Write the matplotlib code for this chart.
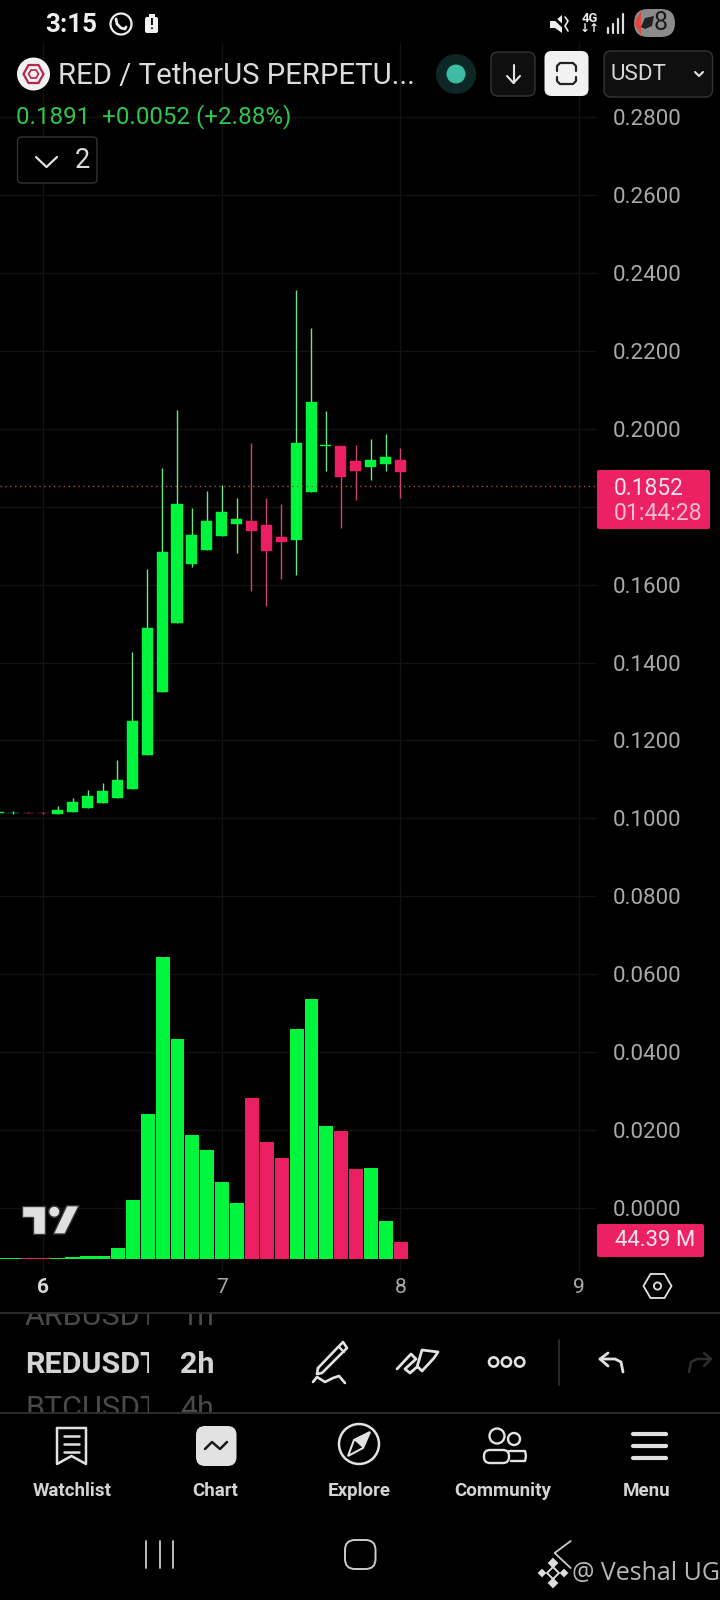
import numpy as np
import matplotlib
matplotlib.use("Agg")
import matplotlib.pyplot as plt
from matplotlib.patches import Circle, FancyBboxPatch, Polygon, Rectangle

plt.rcParams['font.family'] = ['Roboto', 'DejaVu Sans']

# candle index counted in 2h steps from the start of day 6
candle_steps = list(range(-3, 25))

opens = [0.1013, 0.1014, 0.1015, 0.1015, 0.1011, 0.1016, 0.1027, 0.1039, 0.1052, 0.1075,
         0.1163, 0.1324, 0.1501, 0.1653, 0.1689, 0.1725, 0.1755, 0.1763, 0.1753, 0.1722,
         0.1714, 0.1838, 0.1955, 0.1956, 0.1917, 0.1902, 0.1909, 0.1920]
closes = [0.1016, 0.1015, 0.1014, 0.1014, 0.1021, 0.1042, 0.1057, 0.1070, 0.1098, 0.1250,
          0.1489, 0.1684, 0.1807, 0.1727, 0.1763, 0.1786, 0.1768, 0.1738, 0.1686, 0.1709,
          0.1963, 0.2069, 0.1957, 0.1876, 0.1891, 0.1920, 0.1927, 0.1889]
highs = [0.1017, 0.1018, 0.1016, 0.1017, 0.1032, 0.1052, 0.1073, 0.1091, 0.1150, 0.1427,
         0.1640, 0.1899, 0.2048, 0.1797, 0.1840, 0.1856, 0.1822, 0.1963, 0.1822, 0.1807,
         0.2356, 0.2258, 0.2045, 0.1956, 0.1958, 0.1974, 0.1986, 0.1951]
lows = [0.1013, 0.1011, 0.1013, 0.1011, 0.1011, 0.1016, 0.1027, 0.1039, 0.1052, 0.1075,
        0.1163, 0.1324, 0.1501, 0.1645, 0.1689, 0.1725, 0.1681, 0.1584, 0.1545, 0.1614,
        0.1625, 0.1838, 0.1891, 0.1745, 0.1817, 0.1868, 0.1891, 0.1822]
volumes = [1.6, 1.6, 1.6, 1.6, 2.5, 5.8, 8.2, 7.4, 30.4, 148.8,
           360.9, 748.0, 545.8, 308.0, 271.0, 193.0, 140.6, 399.5, 291.0, 251.5,
           569.6, 643.6, 330.4, 318.0, 224.4, 227.7, 96.2, 44.39]

price_ticks = [0.28, 0.26, 0.24, 0.22, 0.20, 0.18, 0.16, 0.14, 0.12, 0.10, 0.08, 0.06, 0.04, 0.02, 0.0]
day_ticks = [6, 7, 8, 9]
last_price = 0.1852

GREEN = '#00f53c'
RED = '#e91e63'
GREEN_WICK = '#72e487'
RED_WICK = '#c9476c'
GRID = '#121212'
LABEL = '#a9a9a9'
UI = '#e2e2e2'

W, H = 720, 1600
PANE_L, PANE_R, PANE_T, PANE_B = 0, 597, 43, 1272


def fs(pixels):
    return pixels * 0.72


fig = plt.figure(figsize=(W / 100, H / 100), dpi=100, facecolor='black')
pos = [PANE_L / W, 1 - PANE_B / H, (PANE_R - PANE_L) / W, (PANE_B - PANE_T) / H]

# price pane
ax = fig.add_axes(pos, facecolor='black')
ax.set_xlim(5.7594, 9.1002)
ax.set_ylim(-0.01642, 0.29899)
for s in ax.spines.values():
    s.set_visible(False)
ax.yaxis.tick_right()
ax.set_yticks(price_ticks)
# the 0.1800 label sits behind the last price tag
ax.set_yticklabels(['' if p == 0.18 else '%.4f' % p for p in price_ticks], fontsize=fs(22.4), color=LABEL)
ax.set_xticks(day_ticks)
ax.set_xticklabels([str(d) for d in day_ticks], fontsize=fs(21), color=LABEL)
ax.xaxis.get_ticklabels()[0].set_color('#d8d8d8')
ax.xaxis.get_ticklabels()[0].set_fontweight('bold')
ax.tick_params(axis='y', length=0, pad=11.5)
ax.tick_params(axis='x', length=0, pad=4)
ax.grid(True, color=GRID, linewidth=1)
ax.set_axisbelow(True)

days = 6 + np.array(candle_steps) / 12
o = np.array(opens)
c = np.array(closes)
up = c >= o
body_colors = [GREEN if u else RED for u in up]
wick_colors = [GREEN_WICK if u else RED_WICK for u in up]

ax.vlines(days, lows, highs, colors=wick_colors, linewidth=1, zorder=2)
ax.bar(days, np.abs(c - o), bottom=np.minimum(o, c), width=0.062, color=body_colors,
       edgecolor=body_colors, linewidth=0.3, zorder=3)
ax.axhline(last_price, color='#a8504f', linewidth=1, linestyle=(0, (1, 2.5)), zorder=4)

# volume pane, same box with its own scale
ax_vol = fig.add_axes(pos, facecolor='none')
ax_vol.set_xlim(5.7594, 9.1002)
ax_vol.set_ylim(-32.06, 2998.7)
ax_vol.axis('off')
# the black edge would swallow the tiny bars, so they get none
vol_edges = [0.7 if v > 20 else 0 for v in volumes]
ax_vol.bar(days, volumes, width=0.0833, color=body_colors, edgecolor='black', linewidth=vol_edges)

# everything around the chart, in screen pixels
ui = fig.add_axes([0, 0, 1, 1], facecolor='none')
ui.set_xlim(0, W)
ui.set_ylim(H, 0)
ui.axis('off')
ui.set_zorder(5)


def box(x0, y0, x1, y1, r, fc, ec='none', lw=1):
    p = FancyBboxPatch((x0, y0), x1 - x0, y1 - y0, boxstyle='round,pad=0,rounding_size=%g' % r,
                       facecolor=fc, edgecolor=ec, linewidth=lw)
    ui.add_patch(p)
    return p


def line(xs, ys, color=UI, lw=1.6):
    ui.plot(xs, ys, color=color, linewidth=lw, solid_capstyle='round', solid_joinstyle='round')


def label(x, y, s, size, color=UI, weight='normal', ha='left', family=None):
    kw = {}
    if family:
        kw['family'] = family
    return ui.text(x, y, s, fontsize=fs(size), color=color, fontweight=weight, ha=ha, va='center', **kw)


# status bar
label(45, 24.5, '3:15', 26, '#f0f0f0', 'bold')
ui.add_patch(Circle((121, 24), 10.5, fc='none', ec='#eeeeee', lw=1.6))
line([116, 117, 121, 125, 126], [19, 24, 28, 29, 27], '#eeeeee', 2)
box(145, 17, 158, 33, 2, '#f2f2f2')
ui.add_patch(Rectangle((148.5, 14), 6, 3, fc='#f2f2f2'))
label(151.5, 25, '!', 14, 'black', 'bold', 'center')
ui.add_patch(Polygon([(550, 21), (555, 21), (562, 15), (562, 33), (555, 28), (550, 28)], fc='#eeeeee'))
line([553, 569], [17, 32], 'black', 2)
line([565, 568, 565, 568], [17, 21, 26, 31], '#eeeeee', 1.2)
label(589.5, 18, '4G', 13, '#eeeeee', 'bold', 'center')
label(589.5, 29, '\u2193\u2191', 12, '#eeeeee', 'bold', 'center', ['DejaVu Sans'])
for bx, bt in zip([608, 613, 618, 623], [28, 24, 19, 14]):
    line([bx, bx], [bt, 33], '#dddddd', 1.6)
box(634, 9, 675, 37, 14, '#8b8b8b')
ui.add_patch(Polygon([(641, 11), (634, 23), (641, 35)], fc='#e0483f'))
ui.add_patch(Polygon([(641, 27), (645, 18), (654, 16), (652, 26), (645, 29)], fc='#222222'))
label(661, 23.5, '8', 25, '#1a1a1a', 'normal', 'center')

# symbol row
ui.add_patch(Circle((33.5, 74), 16.5, fc='#f1f1f1'))
ui.add_patch(Polygon([(23.5, 74), (28.5, 65), (38.5, 65), (43.5, 74), (38.5, 83), (28.5, 83)],
                     fc='none', ec='#b8254a', lw=1.6))
ui.add_patch(Polygon([(28.5, 74), (31, 70), (36, 70), (38.5, 74), (36, 78), (31, 78)],
                     fc='none', ec='#b8254a', lw=1.2))
label(58, 75.5, 'RED / TetherUS PERPETU...', 29.4, '#dcdcdc')
ui.add_patch(Circle((456, 74), 20, fc='#0c2726'))
ui.add_patch(Circle((456, 74), 9.5, fc='#3fbca5'))
box(491, 52, 535, 96, 7, '#0f0f0f', '#343434')
line([513.5, 513.5], [65, 83], UI, 1.5)
line([507, 513.5, 520], [76, 83, 76], UI, 1.5)
box(544.5, 51, 588.5, 96, 7, '#f2f2f2')
line([557, 557, 560, 573, 576, 576], [71, 66, 63, 63, 66, 71], '#222222', 1.6)
line([557, 557, 560, 573, 576, 576], [77, 81, 84, 84, 81, 77], '#222222', 1.6)
box(604, 51, 712.5, 97, 7, '#0f0f0f', '#343434')
label(611, 74, 'USDT', 22.4, '#d8d8d8')
line([695, 699, 703], [72, 76, 72], UI, 1.5)

# quote row
label(15.5, 116.5, '0.1891  +0.0052 (+2.88%)', 24.1, '#2fc64b')
box(17.5, 137, 97, 183, 4, 'black', '#333333')
line([36, 46.5, 57], [157, 167, 157], UI, 1.6)
label(75, 160, '2', 27, '#dddddd')

# price and countdown tag
box(597, 470, 710, 529, 2, '#ec2163')
label(614, 488.5, '%.4f' % last_price, 22.8, '#f8e4ec')
label(614, 514, '01:44:28', 23, '#f7bcd1')

# volume tag
box(597, 1224, 704, 1257, 2, '#ec2163')
label(615, 1241, '44.39 M', 22.2, '#fbe6ee')

# TradingView mark
LOGO_OUT = '#383838'
ui.add_patch(Polygon([(21.7, 1205.7), (45, 1205.7), (45, 1234), (33.3, 1234), (33.3, 1216.7), (21.7, 1216.7)],
                     fc='#e0e0e0', ec=LOGO_OUT, lw=1))
ui.add_patch(Circle((54.3, 1211.7), 5.6, fc='#e0e0e0', ec=LOGO_OUT, lw=1))
ui.add_patch(Polygon([(66.7, 1205.7), (79, 1205.7), (65, 1234), (53.3, 1234)], fc='#e0e0e0', ec=LOGO_OUT, lw=1))

# settings hexagon next to the time axis
ui.add_patch(Polygon([(643.5, 1286), (650.5, 1274), (664.5, 1274), (671.5, 1286), (664.5, 1298), (650.5, 1298)],
                     fc='none', ec=UI, lw=1.3))
ui.add_patch(Circle((657.5, 1286), 3.6, fc='none', ec=UI, lw=1.3))

# toolbar
line([0, 720], [1313, 1313], '#2b2b2b', 1.5)
line([0, 720], [1413, 1413], '#2b2b2b', 1.5)
strip = Rectangle((0, 1314), 149, 98, transform=ui.transData)
strip2 = Rectangle((150, 1314), 100, 98, transform=ui.transData)
for y, sym, tf, col in [(1317, 'ARBUSDT', '1h', '#4a4a4a'), (1365, 'REDUSDT', '2h', '#d4d4d4'),
                        (1409, 'BTCUSDT', '4h', '#4a4a4a')]:
    w = 'bold' if col == '#d4d4d4' else 'normal'
    t1 = label(25, y, sym, 30.5, col, w)
    t2 = label(180, y, tf, 30.5, col, w)
    t1.set_clip_on(True)
    t1.set_clip_path(strip)
    t2.set_clip_on(True)
    t2.set_clip_path(strip2)

# pencil
line([318, 343, 347, 322, 317, 318], [1368, 1342, 1348, 1373, 1374, 1368], UI, 1.9)
line([339, 344], [1347, 1352], UI, 1.6)
line([313, 317, 325, 333, 339, 345], [1382, 1377, 1382, 1378, 1376, 1383], UI, 1.9)
# line tools
line([397, 411, 416, 405, 410, 417, 422, 438, 434, 422, 418], [1369, 1354, 1359, 1369, 1373, 1367, 1350, 1352, 1358, 1371, 1367], UI, 2)
for cx in [493.6, 506.4, 519.7]:
    ui.add_patch(Circle((cx, 1362), 4.6, fc='none', ec=UI, lw=1.9))
line([558.8, 558.8], [1340, 1385], '#333333', 1.2)
line([623, 621, 615, 600], [1372, 1362, 1359, 1359], UI, 2)
line([608, 600, 608], [1353, 1359, 1366], UI, 2)
line([689, 691, 697, 711], [1372, 1362, 1359, 1359], '#2e2e2e', 1.8)
line([704, 711, 704], [1353, 1359, 1366], '#2e2e2e', 1.8)

# bottom tabs
for x, name in zip([72, 215, 359.5, 503, 647], ['Watchlist', 'Chart', 'Explore', 'Community', 'Menu']):
    label(x, 1491.5, name, 18.8, '#d4d4d4', 'bold', 'center')
line([57, 57, 71.5, 86, 86, 57], [1428, 1464, 1456, 1464, 1428, 1428], UI, 1.8)
for yy in [1436, 1444, 1452]:
    line([64, 79], [yy, yy], UI, 1.8)
box(196, 1426, 236.5, 1466, 9, '#e2e2e2')
line([205, 212, 220, 227], [1449, 1442, 1449, 1442], '#1a1a1a', 1.8)
ui.add_patch(Circle((359, 1444), 20, fc='none', ec=UI, lw=1.8))
ui.add_patch(Polygon([(348, 1456), (354, 1440), (370, 1432), (363, 1448)], fc='none', ec=UI, lw=1.5))
ui.add_patch(Polygon([(354, 1440), (370, 1432), (363, 1448)], fc=UI))
ui.add_patch(Circle((497, 1436), 7.5, fc='none', ec=UI, lw=1.7))
ui.add_patch(Circle((514, 1439), 6, fc='none', ec=UI, lw=1.7))
box(484, 1450, 509, 1463, 6, 'black', UI, 1.7)
line([509, 525, 526, 525, 511], [1451, 1451, 1456, 1461, 1461], UI, 1.7)
for yy in [1434, 1446, 1457.5]:
    line([633, 666], [yy, yy], UI, 3)

# android keys
for bx in [146, 160, 172.5]:
    line([bx, bx], [1541, 1568], '#cccccc', 1.3)
box(345, 1540, 375.5, 1569, 10, 'none', '#cccccc', 1.4)
line([570.7, 554.6, 570.7], [1541, 1553, 1568], '#cccccc', 1.3)

# watermark
for dx, dy, r in [(0, 0, 6), (-11, 0, 3), (11, 0, 3), (0, -10, 4), (0, 10, 4)]:
    ui.add_patch(Polygon([(553 + dx - r, 1573 + dy), (553 + dx, 1573 + dy - r),
                          (553 + dx + r, 1573 + dy), (553 + dx, 1573 + dy + r)],
                         fc='#dddddd' if r < 6 else 'none', ec='#dddddd', lw=1.4))
label(572, 1574, '@ Veshal UG', 25, '#b8b8b8', 'normal', 'left', ['Open Sans'])

fig.savefig('out.png', dpi=100, facecolor='black')
